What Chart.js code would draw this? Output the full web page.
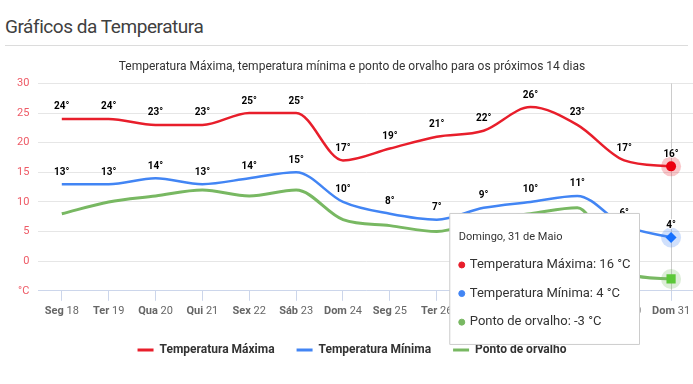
<!DOCTYPE html>
<html lang="pt">
<head>
<meta charset="utf-8">
<script src="https://cdn.jsdelivr.net/npm/chart.js@4/dist/chart.umd.min.js"></script>
<style>
    body { margin: 0; width: 693px; height: 384px; overflow: hidden; background: #fff; font-family: Roboto, "Noto Sans", sans-serif; }
    h2 { position: absolute; left: 5px; top: 15px; margin: 0; font-size: 19px; line-height: 24px; letter-spacing: -0.45px; font-weight: 400; color: #404040; }
    .linha { position: absolute; left: 5px; top: 45px; width: 683px; height: 1px; background: #dcdcdc; }
    .grafico { position: absolute; left: 0; top: 52px; width: 696px; height: 332px; }
</style>
</head>
<body>
<h2>Gráficos da Temperatura</h2>
<div class="linha"></div>
<div class="grafico"><canvas id="chartTemperatura"></canvas></div>
<script>
    var dias = ['Seg 18', 'Ter 19', 'Qua 20', 'Qui 21', 'Sex 22', 'Sáb 23', 'Dom 24',
                'Seg 25', 'Ter 26', 'Qua 27', 'Qui 28', 'Sex 29', 'Sáb 30', 'Dom 31'];
    var tempMaxima = [24, 24, 23, 23, 25, 25, 17, 19, 21, 22, 26, 23, 17, 16];
    var tempMinima = [13, 13, 14, 13, 14, 15, 10, 8, 7, 9, 10, 11, 6, 4];
    var pontoOrvalho = [8, 10, 11, 12, 11, 12, 7, 6, 5, 7, 8, 9, -2, -3];
    var ticksY = [-5, 0, 5, 10, 15, 20, 25, 30];
    var nomesDias = { Seg: 'Segunda', Ter: 'Terça', Qua: 'Quarta', Qui: 'Quinta', Sex: 'Sexta', 'Sáb': 'Sábado', Dom: 'Domingo' };
    var mes = 'Maio';

    var vermelho = '#e81e2b', azul = '#4285f4', verde = '#78b862';
    var fonte = 'Roboto, "Noto Sans", sans-serif';

    // tooltip ao lado do ponto mais baixo
    Chart.Tooltip.positioners.maisBaixo = function(items) {
        if (!items.length) return false;
        var y = 0;
        items.forEach(function(it) { y = Math.max(y, it.element.y); });
        return { x: items[0].element.x, y: y };
    };

    // linha vertical + halo dos pontos ativos
    var halo = {
        id: 'halo',
        beforeDatasetsDraw: function(chart) {
            var ativos = chart.getActiveElements();
            if (!ativos.length) return;
            var ctx = chart.ctx, area = chart.chartArea;
            ctx.save();
            ctx.strokeStyle = '#cccccc';
            ctx.lineWidth = 1;
            ctx.beginPath();
            var x = Math.round(ativos[0].element.x) + 0.5;
            ctx.moveTo(x, area.top);
            ctx.lineTo(x, area.bottom);
            ctx.stroke();
            ativos.forEach(function(a) {
                var cor = chart.data.datasets[a.datasetIndex].borderColor;
                ctx.globalAlpha = 0.25;
                ctx.fillStyle = cor;
                ctx.beginPath();
                ctx.arc(a.element.x, a.element.y, 10, 0, Math.PI * 2);
                ctx.fill();
            });
            ctx.restore();
        }
    };

    // rótulos de valor e rótulos do eixo x (dia em negrito)
    var rotulos = {
        id: 'rotulos',
        afterDatasetsDraw: function(chart) {
            var ctx = chart.ctx;
            ctx.save();
            ctx.textAlign = 'center';
            ctx.textBaseline = 'middle';
            ctx.font = 'bold 10px ' + fonte;
            [0, 1].forEach(function(d) {
                var meta = chart.getDatasetMeta(d);
                meta.data.forEach(function(p, i) {
                    var txt = chart.data.datasets[d].data[i] + '°';
                    ctx.lineWidth = 2;
                    ctx.strokeStyle = 'rgba(255,255,255,0.8)';
                    ctx.strokeText(txt, p.x, p.y - 12);
                    ctx.fillStyle = '#000';
                    ctx.fillText(txt, p.x, p.y - 12);
                });
            });
            var sx = chart.scales.x;
            var y = sx.top + 20;
            ctx.textAlign = 'left';
            dias.forEach(function(d, i) {
                var partes = d.split(' ');
                var x = sx.getPixelForTick(i);
                ctx.font = 'bold 11px ' + fonte;
                var w1 = ctx.measureText(partes[0] + ' ').width;
                ctx.font = '11px ' + fonte;
                var w2 = ctx.measureText(partes[1]).width;
                var x0 = x - (w1 + w2) / 2;
                ctx.fillStyle = '#666666';
                ctx.font = 'bold 11px ' + fonte;
                ctx.fillText(partes[0] + ' ', x0, y);
                ctx.font = '11px ' + fonte;
                ctx.fillText(partes[1], x0 + w1, y);
            });
            ctx.restore();
        }
    };

    var ctx = document.getElementById('chartTemperatura');
    var chartTemp = new Chart(ctx, {
        type: 'line',
        data: {
            labels: dias,
            datasets: [{
                label: 'Temperatura Máxima',
                data: tempMaxima,
                borderColor: vermelho,
                backgroundColor: vermelho,
                borderWidth: 2.5,
                pointStyle: 'circle',
                pointHoverRadius: 5
            }, {
                label: 'Temperatura Mínima',
                data: tempMinima,
                borderColor: azul,
                backgroundColor: azul,
                borderWidth: 2.5,
                pointStyle: 'rectRot',
                pointHoverRadius: 5.5
            }, {
                label: 'Ponto de orvalho',
                data: pontoOrvalho,
                borderColor: verde,
                backgroundColor: verde,
                borderWidth: 3,
                pointStyle: 'rect',
                pointHoverRadius: 6.5
            }]
        },
        options: {
            responsive: true,
            maintainAspectRatio: false,
            animation: false,
            events: [],
            layout: { padding: { left: 8, right: 0, top: 0, bottom: 18 } },
            elements: {
                line: { cubicInterpolationMode: 'monotone', fill: false },
                point: { radius: 0, hoverBorderWidth: 0 }
            },
            scales: {
                x: {
                    offset: true,
                    grid: { drawOnChartArea: false, color: '#ccd6eb', tickLength: 10 },
                    border: { color: '#ccd6eb' },
                    ticks: { color: 'rgba(0,0,0,0)', font: { size: 11, family: fonte }, padding: 4, autoSkip: false, maxRotation: 0 }
                },
                y: {
                    min: -5,
                    max: 30,
                    afterBuildTicks: function(axis) {
                        axis.ticks = ticksY.map(function(v) { return { value: v }; });
                    },
                    grid: { color: '#e6e6e6', drawTicks: false },
                    border: { display: false },
                    ticks: {
                        color: '#ee5a66',
                        font: { size: 11, family: fonte },
                        padding: 9,
                        callback: function(v) { return v === -5 ? '°C' : v; }
                    }
                }
            },
            plugins: {
                title: {
                    display: true,
                    text: 'Temperatura Máxima, temperatura mínima e ponto de orvalho para os próximos 14 dias',
                    color: '#333333',
                    font: { size: 12, weight: 'normal', family: fonte },
                    padding: { top: 8, bottom: 9 }
                },
                legend: {
                    position: 'bottom',
                    labels: {
                        boxWidth: 16,
                        boxHeight: 3,
                        padding: 22,
                        color: '#333333',
                        font: { size: 12, weight: 'bold', family: fonte },
                        generateLabels: function(chart) {
                            var itens = Chart.defaults.plugins.legend.labels.generateLabels(chart);
                            itens.forEach(function(it) { it.lineWidth = 0; });
                            return itens;
                        }
                    }
                },
                tooltip: {
                    position: 'maisBaixo',
                    xAlign: 'right',
                    yAlign: 'center',
                    caretSize: 0,
                    caretPadding: 33,
                    backgroundColor: '#ffffff',
                    borderColor: '#cccccc',
                    borderWidth: 1,
                    cornerRadius: 0,
                    titleColor: '#333333',
                    bodyColor: '#333333',
                    titleFont: { size: 11, weight: 'normal', family: fonte },
                    bodyFont: { size: 13, family: fonte },
                    titleMarginBottom: 13,
                    bodySpacing: 13,
                    padding: { top: 17.5, bottom: 14.5, left: 9, right: 9 },
                    usePointStyle: true,
                    boxWidth: 6,
                    boxHeight: 6,
                    boxPadding: 3,
                    multiKeyBackground: 'rgba(0,0,0,0)',
                    callbacks: {
                        title: function(items) {
                            var partes = items[0].label.split(' ');
                            return nomesDias[partes[0]] + ', ' + partes[1] + ' de ' + mes;
                        },
                        label: function(item) {
                            return item.dataset.label + ': ' + item.raw + ' °C';
                        },
                        labelColor: function(item) {
                            return { borderColor: item.dataset.borderColor, backgroundColor: item.dataset.borderColor };
                        },
                        labelPointStyle: function() {
                            return { pointStyle: 'circle', rotation: 0 };
                        }
                    }
                }
            }
        },
        plugins: [halo, rotulos]
    });

    var ultimo = dias.length - 1;
    var ativos = [0, 1, 2].map(function(d) { return { datasetIndex: d, index: ultimo }; });
    chartTemp.tooltip.setActiveElements(ativos, { x: 0, y: 0 });
    chartTemp.setActiveElements(ativos);
    chartTemp.update();
</script>
</body>
</html>
